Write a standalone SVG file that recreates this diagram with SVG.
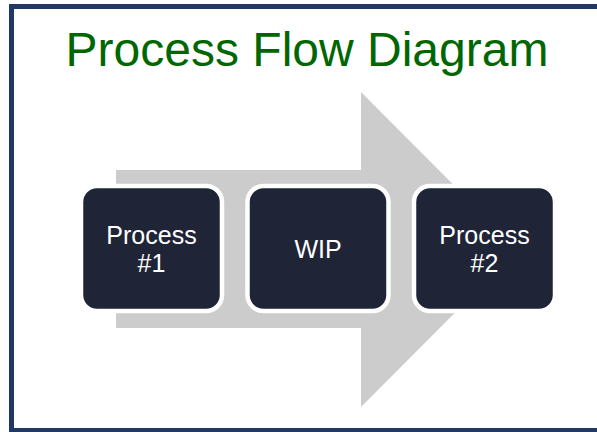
<svg xmlns="http://www.w3.org/2000/svg" width="597" height="432" viewBox="0 0 597 432">
<style>
.frame{fill:#ffffff;stroke:#1f3864;stroke-width:5}
.title{font-family:"Liberation Sans",Arial,sans-serif;font-size:48px;fill:#006600;text-anchor:middle}
.box{fill:#1f2437;stroke:#ffffff;stroke-width:4.5}
.lbl{font-family:"Liberation Sans",Arial,sans-serif;font-size:25px;fill:#ffffff;text-anchor:middle}
.arrow{fill:#cccccc}
</style>
<rect class="frame" x="11.5" y="6.5" width="600" height="424"/>
<text class="title" x="307" y="66">Process Flow Diagram</text>
<g id="connectors">
<polygon class="arrow" points="116,170 361,170 361,92 518,249.5 361,407 361,328 116,328"/>
</g>
<g id="process1">
<rect class="box" x="81" y="186" width="141" height="125" rx="16"/>
<text class="lbl" x="151.5" y="244">Process</text>
<text class="lbl" x="151.5" y="272">#1</text>
</g>
<g id="wip">
<rect class="box" x="247.5" y="186" width="141" height="125" rx="16"/>
<text class="lbl" x="318" y="258">WIP</text>
</g>
<g id="process2">
<rect class="box" x="414" y="186" width="141" height="125" rx="16"/>
<text class="lbl" x="484.5" y="244">Process</text>
<text class="lbl" x="484.5" y="272">#2</text>
</g>
</svg>
